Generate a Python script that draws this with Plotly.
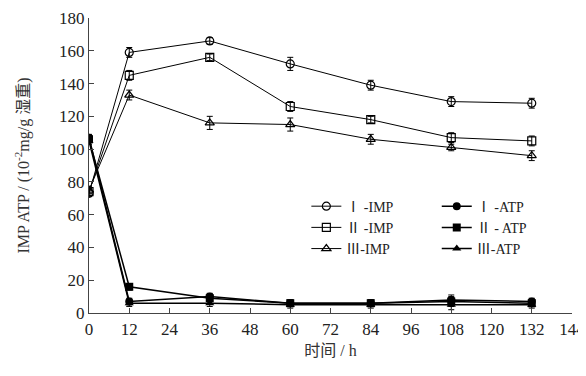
import plotly.graph_objects as go

hours = [0, 12, 36, 60, 84, 108, 132]
imp1 = [73, 159, 166, 152, 139, 129, 128]
imp2 = [74, 145, 156, 126, 118, 107, 105]
imp3 = [75, 133, 116, 115, 106, 101, 96]
atp1 = [107, 7, 10, 6, 6, 8, 7]
atp2 = [106, 16, 9, 6, 6, 7, 6]
atp3 = [105, 6, 6, 5, 5, 5, 5]
imp1_err = [2, 3, 2, 4, 3, 3, 3]
imp2_err = [2, 3, 2, 3, 2, 3, 3]
imp3_err = [2, 3, 4, 4, 3, 2, 3]
atp_err = [2, 2, 2, 2, 2, 3, 2]

names_imp = ["Ⅰ -IMP", "Ⅱ -IMP", "Ⅲ-IMP"]
names_atp = ["Ⅰ -ATP", "Ⅱ - ATP", "Ⅲ-ATP"]
x_ticks = list(range(0, 145, 12))
y_ticks = list(range(0, 181, 20))

fig = go.Figure()
imp_syms = ["circle-open", "square-open", "triangle-up-open"]
atp_syms = ["circle", "square", "triangle-up"]
for ys, err, nm, sym in zip([imp1, imp2, imp3], [imp1_err, imp2_err, imp3_err], names_imp, imp_syms):
    fig.add_trace(go.Scatter(
        x=hours, y=ys, name=nm, mode="lines+markers",
        line=dict(color="black", width=1),
        marker=dict(symbol=sym, size=8, color="black", line=dict(width=1.2, color="black")),
        error_y=dict(type="data", array=err, color="black", thickness=1, width=3),
        legend="legend"))
for ys, nm, sym in zip([atp1, atp2, atp3], names_atp, atp_syms):
    fig.add_trace(go.Scatter(
        x=hours, y=ys, name=nm, mode="lines+markers",
        line=dict(color="black", width=1.5),
        marker=dict(symbol=sym, size=8, color="black"),
        error_y=dict(type="data", array=atp_err, color="black", thickness=1, width=3),
        legend="legend2"))

serif = "Liberation Serif, Noto Sans CJK SC, serif"
# the page body adds an 8px offset; margins compensate so the plot area lands where the reference's does
fig.update_layout(
    width=586, height=376,
    margin=dict(l=81, r=22, t=10, b=71),
    paper_bgcolor="white", plot_bgcolor="white",
    font=dict(family=serif, size=17, color="#222"),
    showlegend=True,
    legend=dict(x=0.45, y=0.415, xanchor="left", yanchor="top", bgcolor="rgba(0,0,0,0)",
                font=dict(size=14, family=serif), tracegroupgap=0, itemwidth=30),
    legend2=dict(x=0.72, y=0.415, xanchor="left", yanchor="top", bgcolor="rgba(0,0,0,0)",
                 font=dict(size=14, family=serif), tracegroupgap=0, itemwidth=30),
    xaxis=dict(range=[0, 144], tickvals=x_ticks, ticks="inside", ticklen=5,
               showline=True, linecolor="#444", linewidth=1.2, showgrid=False, zeroline=False,
               automargin=False,
               title=dict(text="时间 / h", font=dict(size=16, color="#333"), standoff=7),
               tickfont=dict(size=17)),
    yaxis=dict(range=[0, 180], tickvals=y_ticks, ticks="inside", ticklen=5,
               showline=True, linecolor="#444", linewidth=1.2, showgrid=False, zeroline=False,
               automargin=False,
               title=dict(text="IMP ATP / (10<sup>-2</sup>mg/g 湿重)", font=dict(size=16, color="#333"),
                          standoff=25),
               tickfont=dict(size=17)),
)
fig.write_html("out.html")
